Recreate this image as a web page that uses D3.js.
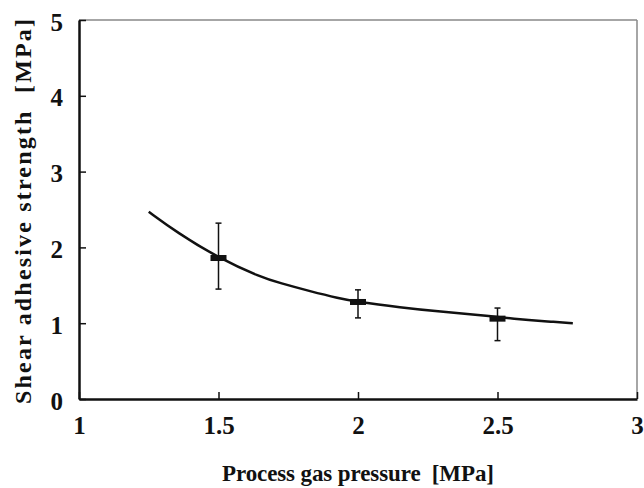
<!DOCTYPE html>
<html>
<head>
<meta charset="utf-8">
<script src="https://cdn.jsdelivr.net/npm/d3@7"></script>
<style>
  body { margin: 0; background: #fff; }
  svg { display: block; }
  text { font-family: "Liberation Serif", "Times New Roman", serif; font-weight: bold; fill: #111; }
  .title { white-space: pre; }
</style>
</head>
<body>
<svg width="644" height="488"></svg>
<script>
const width = 644;
const height = 488;

// Fitted curve
const curveP = [1.25, 1.35, 1.5, 1.65, 1.72, 1.83, 1.93, 2.0, 2.15, 2.3, 2.43, 2.5, 2.62, 2.69, 2.77];
const curveV = [2.47, 2.20, 1.86, 1.61, 1.53, 1.42, 1.33, 1.28, 1.21, 1.15, 1.11, 1.08, 1.04, 1.02, 1.00];

// Measured points with error bars
const pointP = [1.5, 2.0, 2.5];
const pointMean = [1.86, 1.28, 1.06];
const pointLow = [1.45, 1.07, 0.77];
const pointHigh = [2.32, 1.44, 1.20];

const xTicks = [1, 1.5, 2, 2.5, 3];
const yTicks = [0, 1, 2, 3, 4, 5];

const margin = { left: 79, right: 7, top: 20, bottom: 89 };

const svg = d3.select("svg");

const x = d3.scaleLinear().domain([1, 3]).range([margin.left, width - margin.right]);
const y = d3.scaleLinear().domain([0, 5]).range([height - margin.bottom, margin.top]);

// Frame: top and right lighter
svg.append("line")
  .attr("x1", x(1)).attr("x2", x(3)).attr("y1", y(5)).attr("y2", y(5))
  .attr("stroke", "#888").attr("stroke-width", 1.5);
svg.append("line")
  .attr("x1", x(3)).attr("x2", x(3)).attr("y1", y(5)).attr("y2", y(0))
  .attr("stroke", "#888").attr("stroke-width", 1.5);

// Bottom axis, ticks inward
const xAxis = svg.append("g")
  .attr("transform", `translate(0,${y(0)})`)
  .call(d3.axisBottom(x).tickValues(xTicks).tickSizeInner(-7).tickSizeOuter(0).tickFormat(d3.format("")));
xAxis.attr("font-family", null).attr("font-size", null);
xAxis.select(".domain").attr("stroke", "#111").attr("stroke-width", 2.5);
xAxis.selectAll(".tick line").attr("stroke", "#111").attr("stroke-width", 1.5);
xAxis.selectAll(".tick text")
  .attr("y", 17).attr("dy", "0.71em")
  .style("font-size", "25px");

// Left axis, ticks inward
const yAxis = svg.append("g")
  .attr("transform", `translate(${x(1)},0)`)
  .call(d3.axisLeft(y).tickValues(yTicks).tickSizeInner(-7).tickSizeOuter(0).tickFormat(d3.format("d")));
yAxis.attr("font-family", null).attr("font-size", null);
yAxis.select(".domain").attr("stroke", "#111").attr("stroke-width", 2.5);
yAxis.selectAll(".tick line").attr("stroke", "#111").attr("stroke-width", 1.5);
yAxis.selectAll(".tick text")
  .attr("x", -16).attr("dy", "0.4em")
  .style("font-size", "25px");

// Fitted curve
const line = d3.line()
  .x((d, i) => x(curveP[i]))
  .y(d => y(d))
  .curve(d3.curveBasis);

svg.append("path")
  .datum(curveV)
  .attr("d", line)
  .attr("fill", "none")
  .attr("stroke", "#111")
  .attr("stroke-width", 2.5);

// Error bars
const bars = svg.append("g");
pointP.forEach((p, i) => {
  const cx = x(p);
  bars.append("line")
    .attr("x1", cx).attr("x2", cx)
    .attr("y1", y(pointHigh[i])).attr("y2", y(pointLow[i]))
    .attr("stroke", "#111").attr("stroke-width", 1.5);
  [pointHigh[i], pointLow[i]].forEach(v => {
    bars.append("line")
      .attr("x1", cx - 3).attr("x2", cx + 3)
      .attr("y1", y(v)).attr("y2", y(v))
      .attr("stroke", "#111").attr("stroke-width", 1.5);
  });
  bars.append("rect")
    .attr("x", cx - 8).attr("y", y(pointMean[i]) - 3)
    .attr("width", 16).attr("height", 6)
    .attr("fill", "#111");
});

// Axis titles
svg.append("text")
  .attr("class", "title")
  .attr("x", x(2))
  .attr("y", 481)
  .attr("text-anchor", "middle")
  .attr("textLength", 272)
  .style("font-size", "23px")
  .text("Process gas pressure  [MPa]");

svg.append("text")
  .attr("class", "title")
  .attr("transform", `translate(31,${(y(0) + y(5)) / 2 + 2}) rotate(-90)`)
  .attr("text-anchor", "middle")
  .attr("textLength", 385)
  .style("font-size", "24px")
  .text("Shear adhesive strength  [MPa]");
</script>
</body>
</html>
